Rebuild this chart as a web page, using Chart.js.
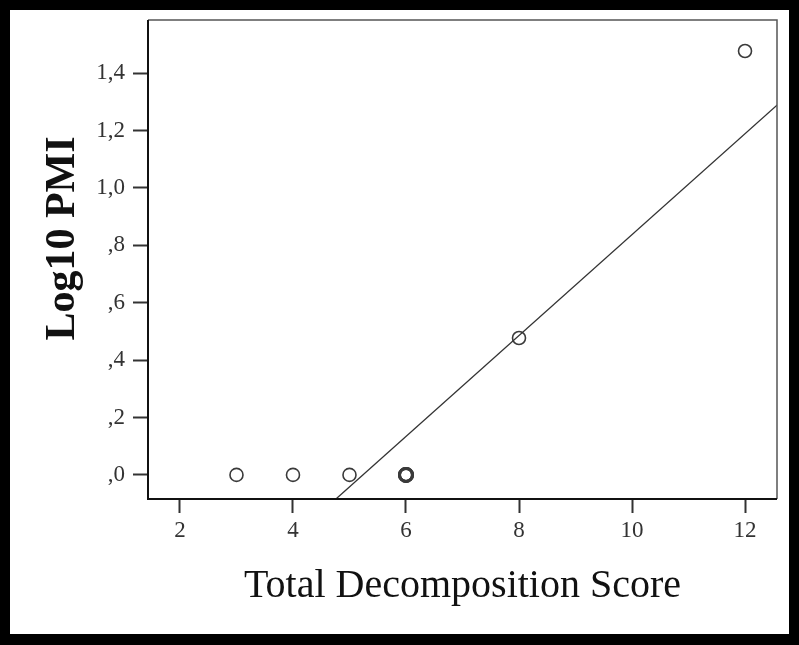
<!DOCTYPE html>
<html lang="en">

<head>
    <meta charset="UTF-8">
    <title>Log10 PMI vs Total Decomposition Score</title>
    <script src="https://cdn.jsdelivr.net/npm/chart.js"></script>
    <style>
        body,
        html {
            margin: 0;
            height: 100%;
            background: #000;
        }

        #frame {
            position: absolute;
            left: 10px;
            top: 10px;
            width: 779px;
            height: 624px;
            background: #fff;
        }
    </style>
</head>

<body>
    <div id="frame"><canvas id="pmiChart"></canvas></div>
    <script>
        // values
        const decompScore = [3, 4, 5, 6, 6, 6, 8, 12];
        const log10Pmi = [0, 0, 0, 0, 0, 0, 0.477, 1.477];

        // fitted line, end points where it leaves the plot box
        const fitX = [4.76, 12.57];
        const fitY = [-0.084, 1.289];

        const xTicks = [2, 4, 6, 8, 10, 12];
        const yTicks = [0, 0.2, 0.4, 0.6, 0.8, 1.0, 1.2, 1.4];
        const yTickLabels = [',0', ',2', ',4', ',6', ',8', '1,0', '1,2', '1,4'];

        const points = decompScore.map((x, i) => ({ x: x, y: log10Pmi[i] }));
        const fitLine = fitX.map((x, i) => ({ x: x, y: fitY[i] }));

        // several cases on the same spot get a heavier ring
        function ringWidth(ctx) {
            const p = points[ctx.dataIndex];
            if (!p) return 1.6;
            const same = points.filter(q => q.x === p.x && q.y === p.y).length;
            return same > 1 ? 3 : 1.6;
        }

        const plotBox = {
            id: 'plotBox',
            afterDraw(chart) {
                const { ctx, chartArea: a } = chart;
                ctx.save();
                ctx.strokeStyle = '#555';
                ctx.lineWidth = 1.5;
                ctx.beginPath();
                ctx.moveTo(a.left, a.top);
                ctx.lineTo(a.right, a.top);
                ctx.lineTo(a.right, a.bottom);
                ctx.stroke();
                ctx.strokeStyle = '#111';
                ctx.lineWidth = 2;
                ctx.beginPath();
                ctx.moveTo(a.left, a.top);
                ctx.lineTo(a.left, a.bottom);
                ctx.lineTo(a.right, a.bottom);
                ctx.stroke();
                ctx.restore();
            }
        };

        const serif = "'Liberation Serif', 'DejaVu Serif', serif";

        new Chart(document.getElementById('pmiChart'), {
            type: 'scatter',
            data: {
                datasets: [{
                    label: 'Fit',
                    type: 'line',
                    data: fitLine,
                    borderColor: '#333',
                    borderWidth: 1.3,
                    pointRadius: 0,
                    fill: false
                }, {
                    label: 'Log10 PMI',
                    data: points,
                    pointRadius: 6.5,
                    pointBackgroundColor: 'rgba(0,0,0,0)',
                    pointBorderColor: '#3a3a3a',
                    pointBorderWidth: ringWidth
                }]
            },
            options: {
                responsive: true,
                maintainAspectRatio: false,
                animation: false,
                layout: { padding: { top: 10, right: 12, left: 0, bottom: 0 } },
                plugins: {
                    legend: { display: false },
                    tooltip: { enabled: false }
                },
                scales: {
                    x: {
                        type: 'linear',
                        min: 1.434,
                        max: 12.566,
                        afterBuildTicks: s => { s.ticks = xTicks.map(v => ({ value: v })); },
                        afterFit: s => { s.height = 135; s.paddingLeft = 0; s.paddingRight = 0; },
                        grid: { drawOnChartArea: false, tickLength: 14, tickColor: '#333', tickWidth: 2 },
                        border: { display: false },
                        ticks: {
                            color: '#333',
                            padding: 4,
                            font: { family: serif, size: 23 },
                            callback: v => String(v)
                        },
                        title: {
                            display: true,
                            text: 'Total Decomposition Score',
                            color: '#111',
                            font: { family: serif, size: 40 },
                            padding: { bottom: 24 }
                        }
                    },
                    y: {
                        type: 'linear',
                        min: -0.084,
                        max: 1.585,
                        afterBuildTicks: s => { s.ticks = yTicks.map(v => ({ value: v })); },
                        afterFit: s => { s.width = 138; s.paddingTop = 0; s.paddingBottom = 0; },
                        grid: { drawOnChartArea: false, tickLength: 15, tickColor: '#333', tickWidth: 2 },
                        border: { display: false },
                        ticks: {
                            color: '#333',
                            padding: 8,
                            font: { family: serif, size: 23 },
                            callback: (v, i) => yTickLabels[i]
                        },
                        title: {
                            display: true,
                            text: '\u00a0\u00a0\u00a0\u00a0Log10 PMI',
                            color: '#111',
                            font: { family: serif, size: 42, weight: 'bold' },
                            padding: { top: 28 }
                        }
                    }
                }
            },
            plugins: [plotBox]
        });
    </script>
</body>

</html>
